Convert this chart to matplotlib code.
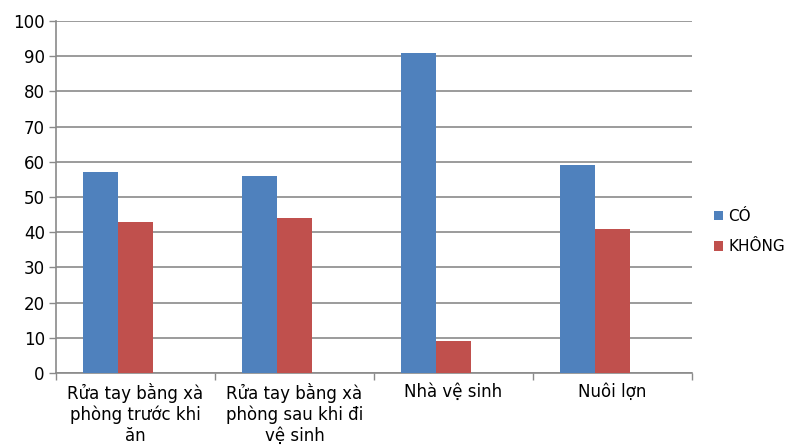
import matplotlib.pyplot as plt
import numpy as np

categories = [
    "Rửa tay bằng xà\nphòng trước khi\năn",
    "Rửa tay bằng xà\nphòng sau khi đi\nvệ sinh",
    "Nhà vệ sinh",
    "Nuôi lợn",
]
co_values = [57, 56, 91, 59]
khong_values = [43, 44, 9, 41]
series_names = ["CÓ", "KHÔNG"]

blue = "#4F81BD"
red = "#C0504D"
grid_col = "#8A8A8A"

plt.rcParams["font.family"] = ["DejaVu Sans"]

fig = plt.figure(figsize=(7.93, 4.45), dpi=100)
ax = fig.add_axes([0.0706, 0.1618, 0.8020, 0.7910])

x = np.arange(len(categories))
w = 0.22
ax.bar(x - w, co_values, width=w, color=blue, label=series_names[0], zorder=3)
ax.bar(x, khong_values, width=w, color=red, label=series_names[1], zorder=3)

ax.set_xlim(-0.5, len(categories) - 0.5)
ax.set_ylim(0, 100)
ax.set_yticks(range(0, 101, 10))
ax.yaxis.grid(True, color=grid_col, linewidth=1.2, zorder=0)

ax.set_xticks(x)
ax.set_xticklabels(categories, fontsize=12, linespacing=1.2)
ax.tick_params(axis="x", which="major", length=0, pad=7)
ax.set_xticks(np.arange(-0.5, len(categories), 1.0), minor=True)
ax.tick_params(axis="x", which="minor", length=5, color=grid_col, width=1)
ax.tick_params(axis="y", length=5, color=grid_col, width=1, labelsize=12, pad=3)

for side in ("top", "right"):
    ax.spines[side].set_visible(False)
for side in ("left", "bottom"):
    ax.spines[side].set_color(grid_col)
    ax.spines[side].set_linewidth(1.2)

fig.legend(loc="center left", bbox_to_anchor=(0.893, 0.48), frameon=False,
           fontsize=11, handlelength=0.6, handleheight=0.6, handletextpad=0.3,
           labelspacing=1.0, borderaxespad=0)

fig.savefig("out.png", dpi=100)
